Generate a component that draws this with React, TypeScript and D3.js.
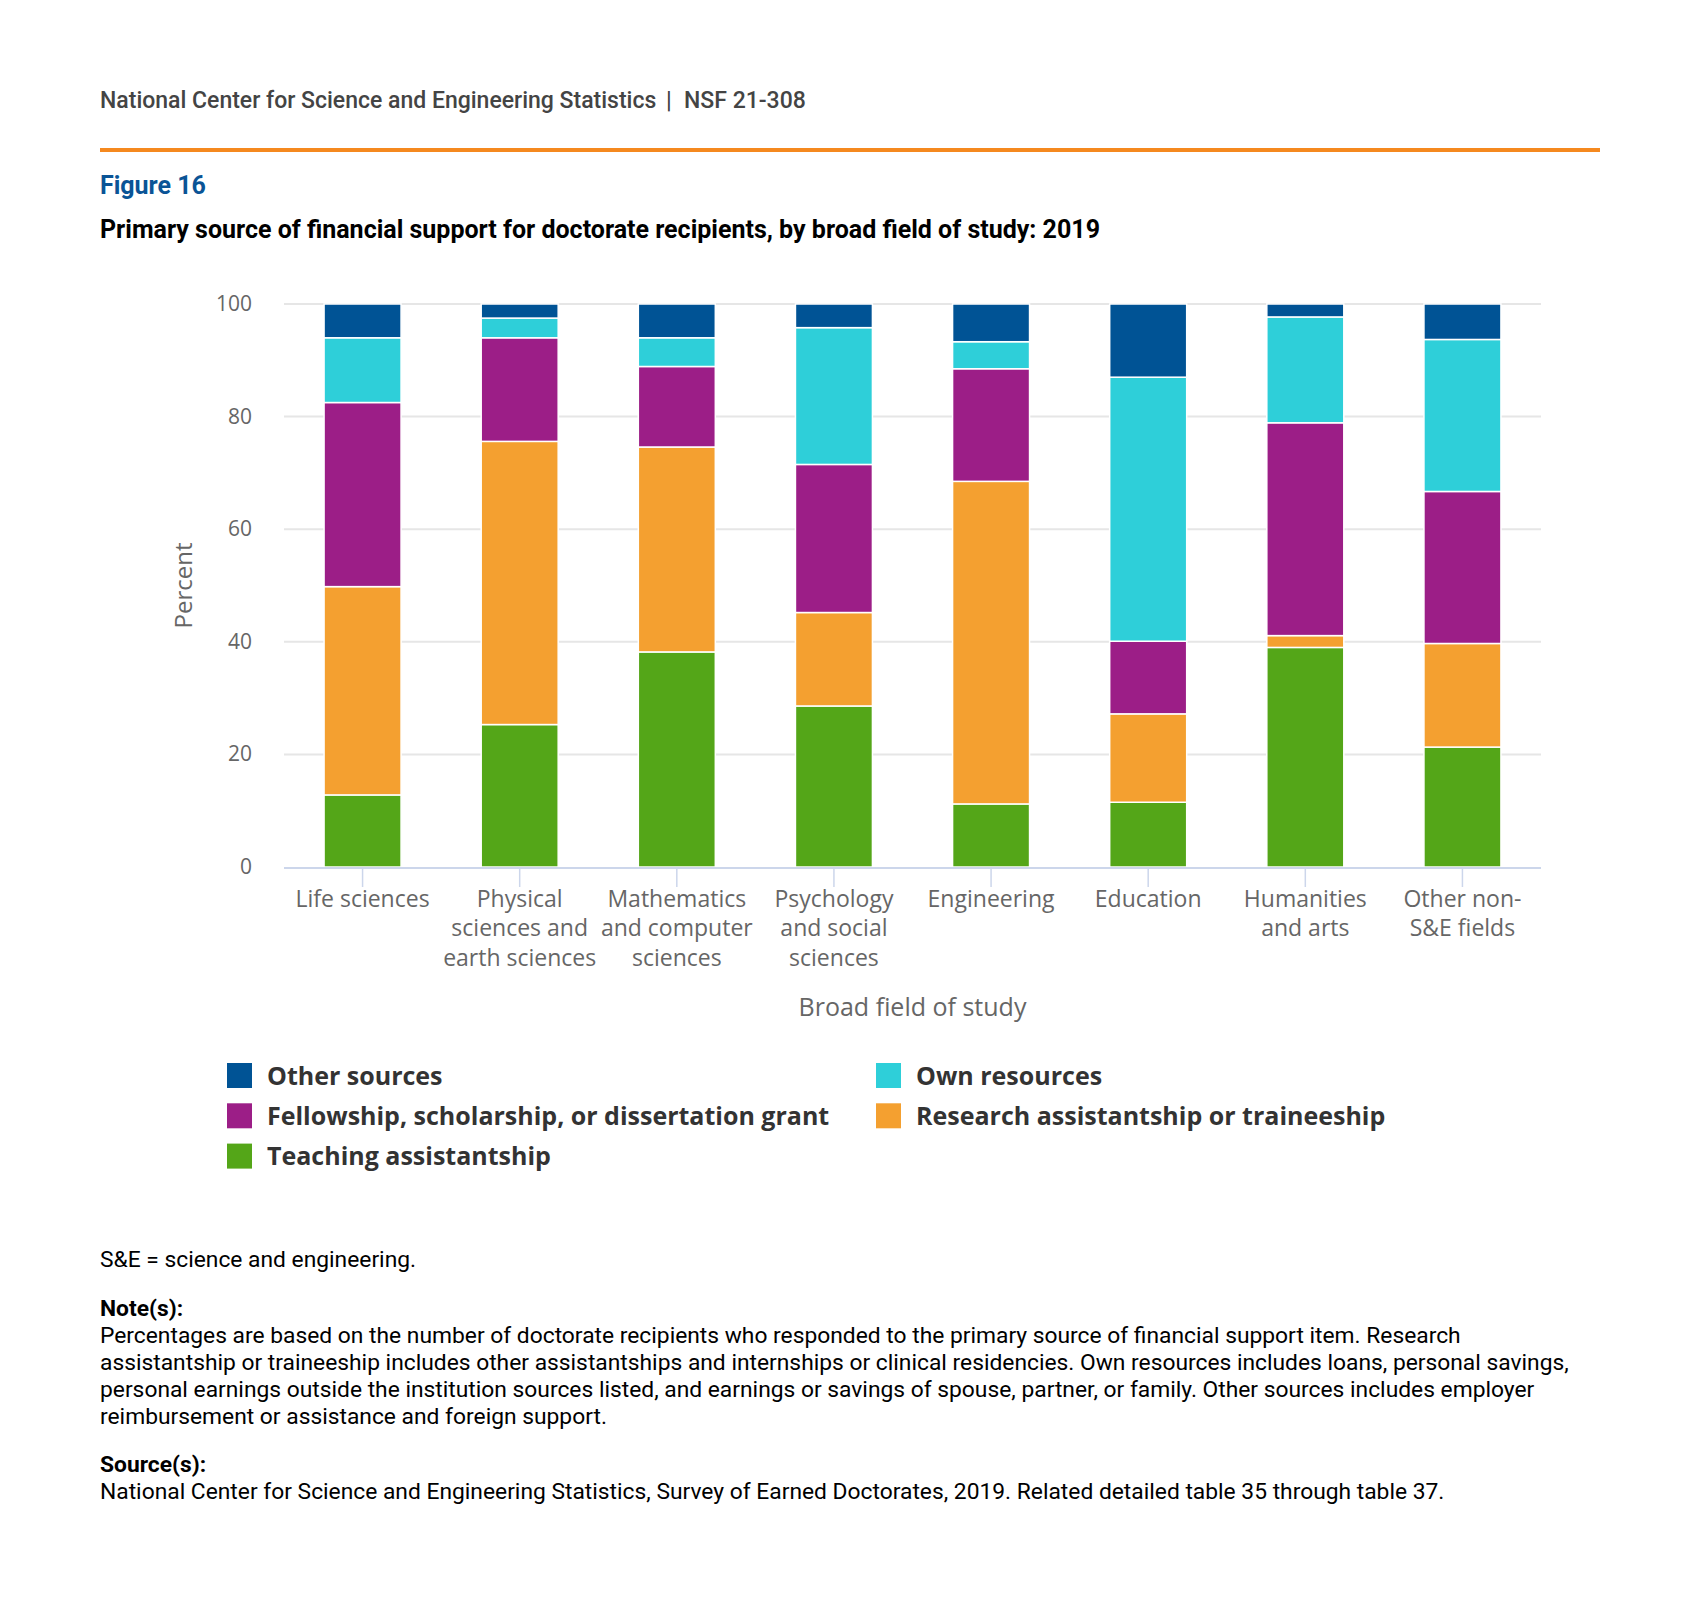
import * as d3 from "d3";

const categories = [
  ["Life sciences"],
  ["Physical", "sciences and", "earth sciences"],
  ["Mathematics", "and computer", "sciences"],
  ["Psychology", "and social", "sciences"],
  ["Engineering"],
  ["Education"],
  ["Humanities", "and arts"],
  ["Other non-", "S&E fields"],
];

// percent values per field, bottom to top of the stack
const teaching = [12.8, 25.3, 38.2, 28.6, 11.2, 11.5, 39.0, 21.3];
const research = [37.0, 50.3, 36.4, 16.6, 57.3, 15.7, 2.1, 18.4];
const fellowship = [32.7, 18.4, 14.3, 26.3, 20.0, 12.9, 37.8, 27.0];
const ownResources = [11.5, 3.5, 5.1, 24.3, 4.8, 46.9, 18.8, 27.0];
const otherSources = [6.0, 2.5, 6.0, 4.2, 6.7, 13.0, 2.3, 6.3];

const yTicks = [0, 20, 40, 60, 80, 100];

const seriesNames = [
  "Teaching assistantship",
  "Research assistantship or traineeship",
  "Fellowship, scholarship, or dissertation grant",
  "Own resources",
  "Other sources",
];
const seriesColors = ["#54a618", "#f4a030", "#9c1e87", "#2ecfd9", "#005395"];
const seriesValues = [teaching, research, fellowship, ownResources, otherSources];

// legend order as shown in the figure
const legendOrder = [4, 3, 2, 1, 0];

const noteLines = [
  "Percentages are based on the number of doctorate recipients who responded to the primary source of financial support item. Research",
  "assistantship or traineeship includes other assistantships and internships or clinical residencies. Own resources includes loans, personal savings,",
  "personal earnings outside the institution sources listed, and earnings or savings of spouse, partner, or family. Other sources includes employer",
  "reimbursement or assistance and foreign support.",
];

export default function App() {
  const width = 1699;
  const height = 1613;
  const plotLeft = 284;
  const plotRight = 1541;
  const plotTop = 304;
  const plotBottom = 867;

  const keys = categories.map((_, i) => String(i));
  const x = d3
    .scaleBand<string>()
    .domain(keys)
    .range([plotLeft, plotRight])
    .paddingInner(0.51)
    .paddingOuter(0.255);
  const y = d3.scaleLinear([0, 100], [plotBottom, plotTop]);

  const rows = keys.map((k, i) => {
    const row: Record<string, number | string> = { key: k };
    seriesNames.forEach((s, j) => (row[s] = seriesValues[j][i]));
    return row;
  });
  const stacked = d3.stack<any>().keys(seriesNames)(rows);

  const chartFont = "'Open Sans', sans-serif";
  const textFont = "Roboto, sans-serif";

  return (
    <div style={{ position: "absolute", left: 0, top: 0 }}>
      <svg width={width} height={height} style={{ display: "block", background: "#fff" }}>
        <g fontFamily={textFont} fontWeight={500} fontSize={23} fill="#444">
          <text x={100} y={108}>National Center for Science and Engineering Statistics</text>
          <text x={666} y={108}>|</text>
          <text x={684} y={108}>NSF 21-308</text>
        </g>
        <rect x={100} y={148} width={1500} height={4} fill="#f5891f" />
        <text x={100} y={194} fontFamily={textFont} fontWeight={700} fontSize={25} fill="#0a5496">
          Figure 16
        </text>
        <text x={100} y={238} fontFamily={textFont} fontWeight={700} fontSize={25} fill="#000">
          Primary source of financial support for doctorate recipients, by broad field of study: 2019
        </text>

        {/* gridlines */}
        <g>
          {yTicks.filter((t) => t !== 0).map((t) => (
            <line key={t} x1={plotLeft} x2={plotRight} y1={y(t)} y2={y(t)} stroke="#e6e6e6" strokeWidth={2} />
          ))}
        </g>

        {/* bars */}
        <g>
          {stacked.map((layer, j) => (
            <g key={layer.key} fill={seriesColors[j]}>
              {layer.map((d, i) => (
                <rect
                  key={i}
                  x={x(keys[i])}
                  width={x.bandwidth()}
                  y={y(d[1])}
                  height={y(d[0]) - y(d[1])}
                  stroke="#fff"
                  strokeWidth={1.5}
                />
              ))}
            </g>
          ))}
        </g>

        {/* x axis */}
        <line x1={plotLeft} x2={plotRight} y1={plotBottom + 1} y2={plotBottom + 1} stroke="#ccd6eb" strokeWidth={2} />
        {keys.map((k, i) => {
          const cx = x(k)! + x.bandwidth() / 2;
          return (
            <g key={k}>
              <line x1={cx} x2={cx} y1={plotBottom} y2={plotBottom + 20} stroke="#ccd6eb" strokeWidth={1.5} />
              <text
                x={cx}
                y={907}
                textAnchor="middle"
                fontFamily={chartFont}
                fontSize={23}
                fill="#666"
              >
                {categories[i].map((line, li) => (
                  <tspan key={li} x={cx} dy={li === 0 ? 0 : 29.3}>
                    {line}
                  </tspan>
                ))}
              </text>
            </g>
          );
        })}
        <text
          x={(plotLeft + plotRight) / 2}
          y={1016}
          textAnchor="middle"
          fontFamily={chartFont}
          fontSize={25}
          fill="#666"
        >
          Broad field of study
        </text>

        {/* y axis */}
        {yTicks.map((t) => (
          <text
            key={t}
            x={252}
            y={y(t) + 7}
            textAnchor="end"
            fontFamily={chartFont}
            fontSize={21}
            fill="#666"
          >
            {t}
          </text>
        ))}
        <text
          transform={`translate(192,${(plotTop + plotBottom) / 2}) rotate(-90)`}
          textAnchor="middle"
          fontFamily={chartFont}
          fontSize={24}
          fill="#666"
        >
          Percent
        </text>

        {/* legend */}
        {legendOrder.map((j, idx) => {
          const col = idx % 2;
          const row = Math.floor(idx / 2);
          const lx = col === 0 ? 227 : 876;
          const ly = 1075.5 + row * 40.3;
          return (
            <g key={j}>
              <rect x={lx} y={ly - 12.5} width={25} height={25} fill={seriesColors[j]} />
              <text
                x={lx + 40}
                y={ly + 9}
                fontFamily={chartFont}
                fontWeight={700}
                fontSize={25}
                fill="#333"
              >
                {seriesNames[j]}
              </text>
            </g>
          );
        })}

        {/* footer */}
        <g fontFamily={textFont} fontSize={22.8} fill="#000">
          <text x={100} y={1267}>S&amp;E = science and engineering.</text>
          <text x={100} y={1316} fontWeight={700}>Note(s):</text>
          {noteLines.map((l, i) => (
            <text key={i} x={100} y={1343 + i * 27}>
              {l}
            </text>
          ))}
          <text x={100} y={1472} fontWeight={700}>Source(s):</text>
          <text x={100} y={1499}>
            National Center for Science and Engineering Statistics, Survey of Earned Doctorates, 2019. Related detailed table 35 through table 37.
          </text>
        </g>
      </svg>
    </div>
  );
}
